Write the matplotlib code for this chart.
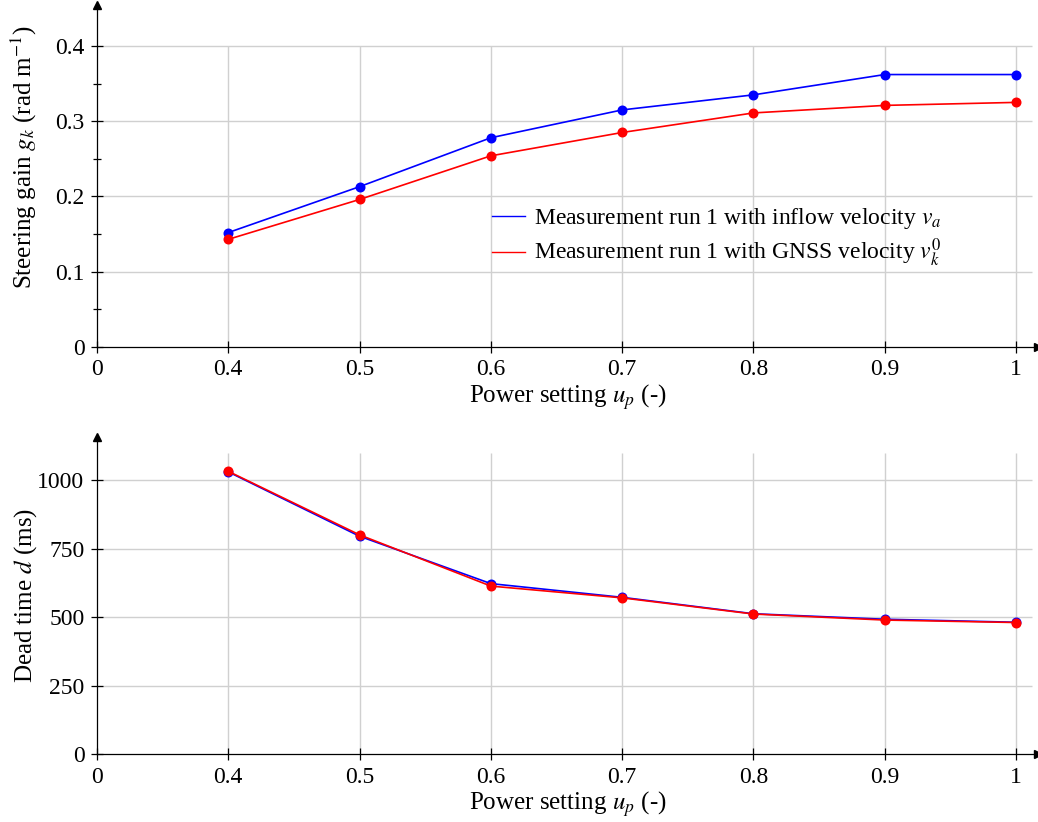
import matplotlib
matplotlib.use("Agg")
import matplotlib.pyplot as plt

plt.rcParams['font.family'] = ['Liberation Serif', 'DejaVu Serif']
plt.rcParams['mathtext.fontset'] = 'stix'
plt.rcParams['font.size'] = 17
plt.rcParams['axes.labelsize'] = 18

# data
power = [0.4, 0.5, 0.6, 0.7, 0.8, 0.9, 1.0]
gain_inflow = [0.152, 0.213, 0.278, 0.315, 0.335, 0.362, 0.362]
gain_gnss = [0.143, 0.196, 0.254, 0.285, 0.311, 0.321, 0.325]
dead_inflow = [1030, 795, 622, 572, 512, 492, 481]
dead_gnss = [1032, 800, 613, 570, 511, 489, 480]

x_ticks = [0.3, 0.4, 0.5, 0.6, 0.7, 0.8, 0.9, 1.0]
x_ticklabels = ['0', '0.4', '0.5', '0.6', '0.7', '0.8', '0.9', '1']
gain_ticks = [0, 0.1, 0.2, 0.3, 0.4]
gain_ticklabels = ['0', '0.1', '0.2', '0.3', '0.4']
dead_ticks = [0, 250, 500, 750, 1000]
dead_ticklabels = ['0', '250', '500', '750', '1000']

label_inflow = r'Measurement run 1 with inflow velocity $v_a$'
label_gnss = r'Measurement run 1 with GNSS velocity $v_k^0$'

blue = '#0000ff'
red = '#ff0000'
gridc = '#d0d0d0'
x_end = 1.0167
x_grid_end = 1.012

fig = plt.figure(figsize=(10.38, 8.22), dpi=100)
ax1 = fig.add_axes([0.0934, 0.5779, 0.9066, 0.4161])
ax2 = fig.add_axes([0.0934, 0.0827, 0.9066, 0.3856])


def style_axis(ax, yticks, ylabels, y_end, y_grid_end):
    ax.set_xlim(0.3, x_end)
    ax.set_ylim(0, y_end)
    for s in ['top', 'right']:
        ax.spines[s].set_visible(False)
    for s in ['left', 'bottom']:
        ax.spines[s].set_linewidth(0.9)
    ax.set_xticks(x_ticks)
    ax.set_xticklabels(x_ticklabels)
    ax.set_yticks(yticks)
    ax.set_yticklabels(ylabels)
    ax.tick_params(direction='inout', length=8, width=0.9, pad=5)
    # grid only up to the last tick, like pgfplots
    ax.vlines(x_ticks[1:], 0, y_grid_end, colors=gridc, lw=1, zorder=0)
    ax.hlines(yticks[1:], 0.3, x_grid_end, colors=gridc, lw=1, zorder=0)
    # arrow heads on axis lines
    ax.plot(1, 0, '>', color='k', ms=6, transform=ax.transAxes, clip_on=False)
    ax.plot(0, 1, '^', color='k', ms=6, transform=ax.transAxes, clip_on=False)
    ax.set_xlabel(r'Power setting $u_p$ (-)', labelpad=1)


# top: steering gain
style_axis(ax1, gain_ticks, gain_ticklabels, 0.4545, 0.4)
ax1.set_yticks([0.05, 0.15, 0.25, 0.35], minor=True)
ax1.tick_params(axis='y', which='minor', direction='inout', length=6, width=0.9)
ax1.plot(power, gain_inflow, color=blue, lw=1.2, marker='o', ms=6, mew=1.2,
         label=label_inflow)
ax1.plot(power, gain_gnss, color=red, lw=1.2, marker='o', ms=6, mew=1.2,
         label=label_gnss)
ax1.set_ylabel(r'Steering gain $g_k$ (rad m$^{-1}$)')
ax1.yaxis.set_label_coords(-0.062, 0.555)

handles = [plt.Line2D([], [], color=blue, lw=1), plt.Line2D([], [], color=red, lw=1)]
ax1.legend(handles, [label_inflow, label_gnss], frameon=False,
           loc='upper left', bbox_to_anchor=(0.397, 0.474), handlelength=1.4,
           handletextpad=0.4, labelspacing=0.25, fontsize=17)

# bottom: dead time
style_axis(ax2, dead_ticks, dead_ticklabels, 1157, 1100)
ax2.plot(power, dead_inflow, color=blue, lw=1.2, marker='o', ms=6, mew=1.2)
ax2.plot(power, dead_gnss, color=red, lw=1.2, marker='o', ms=6, mew=1.2)
ax2.set_ylabel(r'Dead time $d$ (ms)')
ax2.yaxis.set_label_coords(-0.062, 0.5)

fig.savefig('out.png', dpi=100)
